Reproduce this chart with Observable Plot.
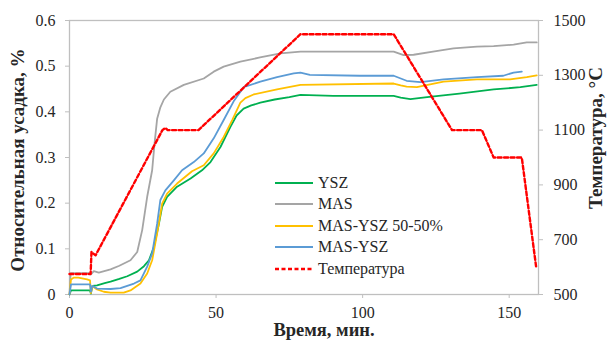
<!DOCTYPE html>
<html>
<head>
<meta charset="utf-8">
<script src="https://cdn.jsdelivr.net/npm/d3@7"></script>
<script src="https://cdn.jsdelivr.net/npm/@observablehq/plot@0.6"></script>
<style>
  html, body { margin: 0; padding: 0; background: #fff; }
  #wrap { position: relative; width: 608px; height: 340px; overflow: hidden; font-family: "Liberation Serif", "Times New Roman", Times, "DejaVu Serif", serif; color: #262626; }
  .title { position: absolute; font-weight: bold; font-size: 19px; white-space: nowrap; line-height: 0.85; }
  .legend { position: absolute; left: 274px; top: 172px; font-size: 16px; }
  .legend .row { height: 21.5px; display: flex; align-items: center; white-space: nowrap; }
  .legend svg { margin-right: 4px; }
</style>
</head>
<body>
<div id="wrap"></div>
<script>
// ---- data (time, min ; shrinkage, %) ----
const ysz = [[0,0],[0.5,0.009],[7,0.009],[7.3,0.002],[7.8,0.019],[9.4,0.020],[12,0.025],[14,0.028],[17,0.034],[19.7,0.040],[23.1,0.050],[25.4,0.062],[27.1,0.075],[28.8,0.104],[30.5,0.155],[31.6,0.192],[33.3,0.214],[36.7,0.236],[41.3,0.254],[45.2,0.272],[48.1,0.29],[51.5,0.323],[54.9,0.367],[57,0.392],[59.4,0.407],[62,0.414],[65.1,0.42],[70,0.427],[75,0.432],[78.8,0.437],[90,0.435],[110.6,0.435],[113,0.431],[116.3,0.428],[122,0.432],[133,0.44],[144.7,0.449],[153.8,0.454],[159.4,0.459]];
const mas = [[0,0],[0.4,0.047],[7,0.047],[7.3,0.044],[8.3,0.051],[10,0.048],[14,0.055],[17,0.063],[20.8,0.075],[23.1,0.093],[24.8,0.141],[26.5,0.214],[28.2,0.272],[29,0.33],[29.9,0.385],[31,0.41],[32.2,0.427],[34.4,0.444],[39,0.459],[45.8,0.473],[49.2,0.488],[52.6,0.499],[58.3,0.51],[65,0.519],[72,0.528],[78.8,0.532],[110.6,0.532],[114,0.524],[117.4,0.525],[124,0.532],[131,0.539],[139,0.543],[144.7,0.544],[151.5,0.547],[156,0.552],[159.4,0.552]];
const masYsz5050 = [[0,0],[0.5,0.033],[1.5,0.037],[3,0.037],[6,0.033],[7,0.031],[7.3,0.003],[7.8,0.018],[9.4,0.011],[11.7,0.006],[14,0.004],[18.5,0.004],[20.8,0.009],[24.2,0.024],[26.5,0.046],[28.2,0.075],[29.9,0.134],[31.6,0.199],[33.3,0.221],[36.7,0.243],[41.8,0.27],[45.8,0.283],[49.2,0.309],[52.6,0.345],[55.5,0.382],[58.3,0.42],[60,0.43],[62.8,0.438],[70.8,0.449],[78.8,0.459],[110.6,0.462],[113,0.458],[115,0.455],[118.5,0.454],[127.6,0.466],[139,0.471],[150.3,0.471],[156,0.476],[159.4,0.48]];
const masYsz = [[0,0],[0.5,0.022],[7,0.022],[7.3,0.006],[7.8,0.019],[9.4,0.013],[14,0.012],[17.4,0.014],[19.7,0.019],[22,0.024],[24.2,0.031],[26.5,0.061],[28.2,0.09],[29.9,0.155],[31,0.207],[32.7,0.228],[35.6,0.25],[38.4,0.272],[42.4,0.29],[45.8,0.309],[49.2,0.342],[52.6,0.382],[56,0.423],[59.4,0.454],[65.1,0.466],[70.8,0.476],[76.5,0.484],[78.8,0.486],[82,0.481],[99,0.479],[110.6,0.479],[115,0.468],[119.7,0.465],[127.6,0.471],[139,0.476],[148,0.479],[151.5,0.486],[154.3,0.488]];
// temperature (time, min ; °C)
const temperature = [[0,575],[7.2,575],[7.5,655],[8.9,643],[31.7,1100],[32.7,1108],[33.5,1100],[44,1100],[78.8,1450],[110.6,1450],[130.5,1100],[140.7,1100],[144.7,1000],[154.3,1000],[159.2,600]];

const xTicks = [0, 50, 100, 150];
const yTicks = [0, 0.1, 0.2, 0.3, 0.4, 0.5, 0.6];
const tempTicks = [500, 700, 900, 1100, 1300, 1500];
const seriesNames = ["YSZ", "MAS", "MAS-YSZ 50-50%", "MAS-YSZ", "Температура"];
const seriesColors = ["#00b050", "#a5a5a5", "#ffc000", "#5b9bd5", "#ff0000"];
const xTitle = "Время, мин.";
const yTitle = "Относительная усадка, %";
const y2Title = "Температура, °C";

// secondary axis mapping: 500..1500 °C -> 0..0.6
const toY = T => (T - 500) * 0.6 / 1000;
const fromY = v => Math.round(500 + v * 1000 / 0.6);

const series = [ysz, mas, masYsz5050, masYsz];
const FONT = "'Liberation Serif', 'Times New Roman', Times, 'DejaVu Serif', serif";

const chart = Plot.plot({
  width: 608,
  height: 340,
  marginLeft: 69,
  marginRight: 70,
  marginTop: 20,
  marginBottom: 46,
  style: { fontFamily: FONT, fontSize: "16px", color: "#262626", background: "#fff" },
  x: { domain: [0, 160] },
  y: { domain: [0, 0.6] },
  marks: [
    Plot.frame({ stroke: "#bfbfbf", strokeWidth: 1.3 }),
    Plot.axisX({ ticks: xTicks, tickSize: 4, tickPadding: 8, label: null, stroke: "#bfbfbf", tickFormat: d => String(d) }),
    Plot.axisY({ ticks: yTicks, tickSize: 4, tickPadding: 10, label: null, stroke: "#bfbfbf", tickFormat: d => d === 0 ? "0" : d.toFixed(1) }),
    Plot.axisY({ anchor: "right", ticks: tempTicks.map(toY), tickSize: 4, tickPadding: 11, label: null, stroke: "#bfbfbf", tickFormat: d => String(fromY(d)) }),
    ...series.map((s, i) => Plot.line(s, { x: d => d[0], y: d => d[1], stroke: seriesColors[i], strokeWidth: 1.8 })),
    Plot.line(temperature, { x: d => d[0], y: d => toY(d[1]), stroke: seriesColors[4], strokeWidth: 2.4, strokeDasharray: "4,2.5" })
  ]
});

const wrap = document.getElementById("wrap");
wrap.appendChild(chart);

function addTitle(text, cx, cy, rotate, size) {
  const el = document.createElement("div");
  el.className = "title";
  el.textContent = text;
  el.style.left = cx + "px";
  el.style.top = cy + "px";
  if (size) el.style.fontSize = size + "px";
  el.style.transform = "translate(-50%, -50%)" + (rotate ? " rotate(-90deg)" : "");
  wrap.appendChild(el);
}
addTitle(xTitle, 324, 331, false, 18.5);
addTitle(yTitle, 18, 160, true);
addTitle(y2Title, 596, 138, true);

const legend = document.createElement("div");
legend.className = "legend";
seriesNames.forEach((name, i) => {
  const row = document.createElement("div");
  row.className = "row";
  const dashed = i === 4;
  row.innerHTML = `<svg width="40" height="6"><line x1="1" x2="39" y1="3" y2="3" stroke="${seriesColors[i]}" stroke-width="${dashed ? 2.4 : 2}" ${dashed ? 'stroke-dasharray="4,2.5"' : ''}/></svg><span>${name}</span>`;
  legend.appendChild(row);
});
wrap.appendChild(legend);
</script>
</body>
</html>
